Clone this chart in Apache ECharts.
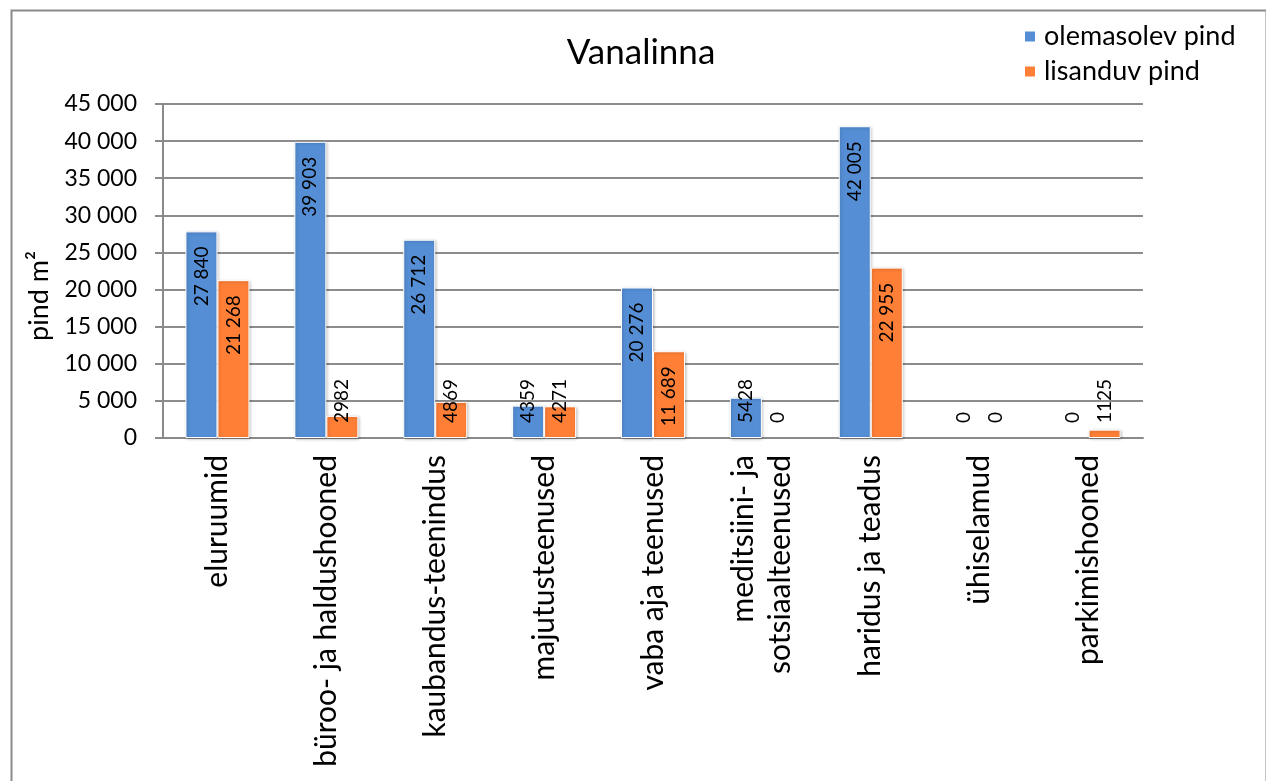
<!DOCTYPE html>
<html>
<head>
<meta charset="utf-8">
<script src="https://cdn.jsdelivr.net/npm/echarts@6/dist/echarts.min.js"></script>
<style>
html,body{margin:0;padding:0;background:#fff;}
#c{width:1266px;height:781px;}
</style>
</head>
<body>
<div id="c"></div>
<script>
const categories = ['eluruumid', 'büroo- ja haldushooned', 'kaubandus-teenindus', 'majutusteenused', 'vaba aja teenused', 'meditsiini- ja\nsotsiaalteenused', 'haridus ja teadus', 'ühiselamud', 'parkimishooned'];
const olemasolev = [27840, 39903, 26712, 4359, 20276, 5428, 42005, 0, 0];
const lisanduv = [21268, 2982, 4869, 4271, 11689, 0, 22955, 0, 1125];
const seriesNames = ['olemasolev pind', 'lisanduv pind'];
const chartTitle = 'Vanalinna';
const yAxisName = 'pind m²';

const FONT = 'Lato';
function spaced(v) {
  return String(v).replace(/\B(?=(\d{3})+(?!\d))/g, ' ');
}
function valueLabelText(v) {
  return v >= 10000 ? spaced(v) : String(v);
}
function buildData(values) {
  return values.map(v => {
    const top = v >= 10000;
    const item = {
      value: v,
      label: top
        ? { position: 'insideTop', align: 'right', verticalAlign: 'middle', distance: 15 }
        : { position: 'insideBottom', align: 'left', verticalAlign: 'middle', distance: 15 }
    };
    if (v === 0) item.itemStyle = { borderWidth: 0, borderColor: 'rgba(0,0,0,0)', shadowBlur: 0, shadowColor: 'rgba(0,0,0,0)', shadowOffsetX: 0, shadowOffsetY: 0 };
    return item;
  });
}
const barCommon = {
  type: 'bar',
  barWidth: 32,
  barGap: '0%',
  label: {
    show: true,
    rotate: 90,
    fontFamily: FONT,
    fontSize: 19,
    color: '#000',
    formatter: p => valueLabelText(p.value)
  }
};

const chart = echarts.init(document.getElementById('c'), null, { renderer: 'canvas' });
chart.setOption({
  animation: false,
  backgroundColor: '#fff',
  title: {
    text: chartTitle,
    left: 636,
    textAlign: 'center',
    top: 30,
    textStyle: { fontFamily: FONT, fontSize: 35, fontWeight: 'normal', color: '#000' }
  },
  legend: {
    orient: 'vertical',
    left: 1018,
    top: 18,
    itemWidth: 12,
    itemHeight: 12,
    itemGap: 8,
    icon: 'rect',
    textStyle: { fontFamily: FONT, fontSize: 27, color: '#000', padding: [0, 0, 0, 3] },
    data: seriesNames
  },
  grid: { left: 163, right: 123, top: 104, bottom: 343, containLabel: false },
  xAxis: {
    type: 'category',
    data: categories,
    axisLine: { show: true, lineStyle: { color: '#8a8a8a', width: 2 } },
    axisTick: { show: false },
    axisLabel: {
      interval: 0,
      rotate: 90,
      margin: 17,
      fontFamily: FONT,
      fontSize: 30,
      color: '#000',
      lineHeight: 37
    }
  },
  yAxis: {
    type: 'value',
    min: 0,
    max: 45000,
    interval: 5000,
    name: yAxisName,
    nameLocation: 'middle',
    nameRotate: 90,
    nameGap: 110,
    nameTextStyle: { fontFamily: FONT, fontSize: 27, color: '#000', padding: [0, 50, 0, 0] },
    axisLine: { show: true, lineStyle: { color: '#8a8a8a', width: 2 } },
    axisTick: { show: true, length: 8, lineStyle: { color: '#8a8a8a', width: 2 } },
    axisLabel: {
      margin: 26,
      fontFamily: FONT,
      fontSize: 23,
      color: '#000',
      formatter: v => spaced(v)
    },
    splitLine: { show: true, lineStyle: { color: '#8c8c8c', width: 2 } }
  },
  series: [
    Object.assign({}, barCommon, {
      name: seriesNames[0],
      data: buildData(olemasolev),
      itemStyle: { color: '#558ED5', borderColor: '#fff', borderWidth: 1, shadowBlur: 3, shadowColor: 'rgba(0,0,0,0.25)', shadowOffsetX: 1, shadowOffsetY: 1 }
    }),
    Object.assign({}, barCommon, {
      name: seriesNames[1],
      data: buildData(lisanduv),
      itemStyle: { color: '#FF7F37', borderColor: '#fff', borderWidth: 1, shadowBlur: 3, shadowColor: 'rgba(0,0,0,0.25)', shadowOffsetX: 1, shadowOffsetY: 1 }
    })
  ],
  graphic: [{
    type: 'rect',
    left: 9,
    top: 8,
    shape: { width: 1255, height: 800 },
    style: { fill: 'none', stroke: '#8a8a8a', lineWidth: 2 },
    silent: true,
    z: -1
  }]
});
</script>
</body>
</html>
